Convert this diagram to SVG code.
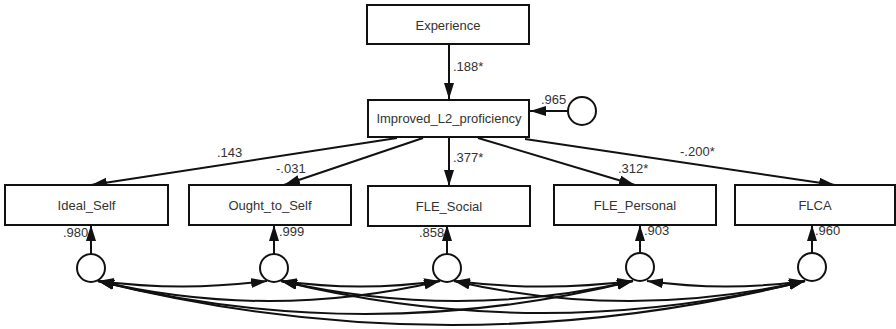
<svg xmlns="http://www.w3.org/2000/svg" width="896" height="329" viewBox="0 0 896 329">
<style>
.box{fill:#fff;stroke:#111;stroke-width:2}
.t{font-family:"Liberation Sans",Arial,sans-serif;font-size:13px;fill:#333;text-anchor:middle}
.l{font-family:"Liberation Sans",Arial,sans-serif;font-size:13px;fill:#333}
.c{fill:#fff;stroke:#111;stroke-width:2}
.e{fill:none;stroke:#111;stroke-width:2;marker-end:url(#ah)}
.cv{fill:none;stroke:#111;stroke-width:2;marker-start:url(#ah);marker-end:url(#ah)}
</style>
<defs>
<marker id="ah" markerUnits="userSpaceOnUse" markerWidth="17" markerHeight="11" refX="16" refY="5" orient="auto-start-reverse">
<path d="M0,0 L16,5 L0,10 z" fill="#111"/>
</marker>
</defs>
<rect width="896" height="329" fill="#fff"/>
<g id="connectors">
<path class="e" d="M449,44 L449,99"/>
<path class="e" d="M568,111 L530,111"/>
<path class="e" d="M397,138 L91,185"/>
<path class="e" d="M423,138 L284,185"/>
<path class="e" d="M449,137 L449,186"/>
<path class="e" d="M478,138 L635,185"/>
<path class="e" d="M525,139 L835,185"/>
<path class="e" d="M91,254 L91,225"/>
<path class="e" d="M274,254 L274,225"/>
<path class="e" d="M447,254 L447,225"/>
<path class="e" d="M640,253 L640,225"/>
<path class="e" d="M812,253 L812,225"/>
<path class="cv" d="M98,281 Q182.5,292 267,281"/>
<path class="cv" d="M281,281 Q360.5,292 440,281"/>
<path class="cv" d="M454,281 Q543.5,292 633,281"/>
<path class="cv" d="M647,281 Q726,292 805,281"/>
<path class="cv" d="M98,281 Q269,321 440,281"/>
<path class="cv" d="M281,281 Q457,321 633,281"/>
<path class="cv" d="M454,281 Q629.5,321 805,281"/>
<path class="cv" d="M98,281 Q365.5,347 633,281"/>
<path class="cv" d="M281,281 Q543,345 805,281"/>
<path class="cv" d="M98,281 Q451.5,369 805,281"/>
</g>
<g id="labels">
<text class="l" x="453" y="71">.188*</text>
<text class="l" x="541" y="104">.965</text>
<text class="l" x="217" y="157">.143</text>
<text class="l" x="276" y="173">-.031</text>
<text class="l" x="453" y="162">.377*</text>
<text class="l" x="618" y="173">.312*</text>
<text class="l" x="680" y="156">-.200*</text>
<text class="l" x="63" y="237">.980</text>
<text class="l" x="279" y="236">.999</text>
<text class="l" x="419" y="237">.858</text>
<text class="l" x="644" y="235">.903</text>
<text class="l" x="815" y="235">.960</text>
</g>
<g id="experience"><rect class="box" x="367" y="5" width="162" height="39"/><text class="t" x="448" y="30">Experience</text></g>
<g id="improved"><rect class="box" x="368" y="100" width="161" height="37"/><text class="t" x="449" y="123">Improved_L2_proficiency</text></g>
<g id="e_improved"><circle class="c" cx="582" cy="111" r="14"/></g>
<g id="ideal_self"><rect class="box" x="5" y="185" width="163" height="40"/><text class="t" x="86.5" y="210">Ideal_Self</text></g>
<g id="ought_to_self"><rect class="box" x="189" y="185" width="162" height="40"/><text class="t" x="270" y="210">Ought_to_Self</text></g>
<g id="fle_social"><rect class="box" x="368" y="186" width="162" height="40"/><text class="t" x="449" y="211">FLE_Social</text></g>
<g id="fle_personal"><rect class="box" x="554" y="185" width="162" height="40"/><text class="t" x="635" y="210">FLE_Personal</text></g>
<g id="flca"><rect class="box" x="735" y="185" width="160" height="40"/><text class="t" x="815" y="210">FLCA</text></g>
<g id="e1"><circle class="c" cx="91" cy="268" r="14"/></g>
<g id="e2"><circle class="c" cx="274" cy="268" r="14"/></g>
<g id="e3"><circle class="c" cx="447" cy="268" r="14"/></g>
<g id="e4"><circle class="c" cx="640" cy="267" r="14"/></g>
<g id="e5"><circle class="c" cx="812" cy="267" r="14"/></g>
</svg>
